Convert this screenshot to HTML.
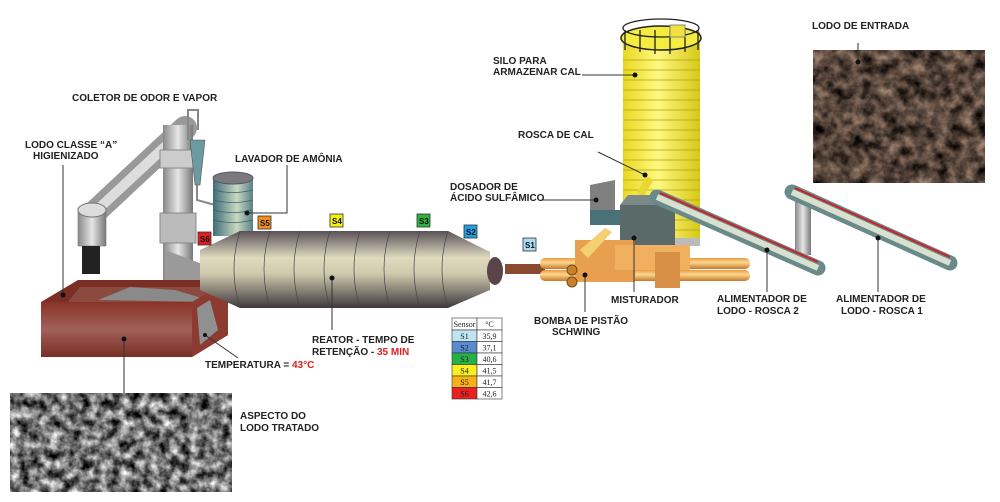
<!DOCTYPE html>
<html><head><meta charset="utf-8"><style>
html,body{margin:0;padding:0;background:#fff}
svg{display:block}
text{font-family:"Liberation Sans",Arial,sans-serif;font-weight:bold;font-size:10px;fill:#222}
.t{font-family:"Liberation Serif",serif;font-weight:normal;font-size:8px;fill:#222}
.s{font-size:8px;fill:#111}
</style></head><body>
<svg width="1000" height="502" viewBox="0 0 1000 502" xmlns="http://www.w3.org/2000/svg">
<defs>
<filter id="ng" x="0" y="0" width="100%" height="100%" color-interpolation-filters="sRGB"><feTurbulence type="fractalNoise" baseFrequency="0.1" numOctaves="4" seed="3"/><feColorMatrix type="matrix" values="1.5 0 0 0 -0.3  1.5 0 0 0 -0.3  1.5 0 0 0 -0.3  0 0 0 0 1"/><feComposite in2="SourceGraphic" operator="in"/></filter>
<filter id="nb" x="0" y="0" width="100%" height="100%" color-interpolation-filters="sRGB"><feTurbulence type="fractalNoise" baseFrequency="0.08" numOctaves="4" seed="7"/><feColorMatrix type="matrix" values="0.9 0 0 0 -0.12  0.75 0 0 0 -0.11  0.65 0 0 0 -0.1  0 0 0 0 1"/><feComposite in2="SourceGraphic" operator="in"/></filter>
<linearGradient id="rg" x1="0" y1="0" x2="0" y2="1"><stop offset="0" stop-color="#5a5258"/><stop offset=".35" stop-color="#e0dac0"/><stop offset=".55" stop-color="#d0caae"/><stop offset="1" stop-color="#3e383e"/></linearGradient>
<linearGradient id="yg" x1="0" y1="0" x2="1" y2="0"><stop offset="0" stop-color="#e8d820"/><stop offset=".45" stop-color="#fff880"/><stop offset="1" stop-color="#d8c818"/></linearGradient>
<linearGradient id="gg" x1="0" y1="0" x2="1" y2="0"><stop offset="0" stop-color="#888"/><stop offset=".5" stop-color="#e6e6e6"/><stop offset="1" stop-color="#777"/></linearGradient>
<linearGradient id="tg" x1="0" y1="0" x2="1" y2="0"><stop offset="0" stop-color="#3f6e78"/><stop offset=".6" stop-color="#c8d8c0"/><stop offset="1" stop-color="#5a8088"/></linearGradient>
<linearGradient id="og" x1="0" y1="0" x2="0" y2="1"><stop offset="0" stop-color="#e89a40"/><stop offset=".4" stop-color="#fcd890"/><stop offset="1" stop-color="#c87828"/></linearGradient>
<linearGradient id="bx" x1="0" y1="0" x2="0" y2="1"><stop offset="0" stop-color="#8a3328"/><stop offset=".5" stop-color="#a0605a"/><stop offset="1" stop-color="#7a2e24"/></linearGradient>
</defs>

<!-- photos -->
<rect x="10" y="393" width="222" height="99" fill="#fff" filter="url(#ng)"/>
<rect x="813" y="50" width="172" height="133" fill="#fff" filter="url(#nb)"/>

<!-- collector -->
<line x1="95" y1="212" x2="185" y2="128" stroke="#999" stroke-width="24" stroke-linecap="round"/>
<line x1="95" y1="212" x2="185" y2="128" stroke="#ddd" stroke-width="10"/>
<rect x="163" y="125" width="30" height="170" fill="url(#gg)"/>
<rect x="160" y="213" width="36" height="30" fill="#bbb" stroke="#888"/>
<rect x="160" y="150" width="36" height="18" fill="#ccc" stroke="#888"/>
<path d="M165 250 L165 290 Q170 300 200 298 L205 265 Z" fill="#9a9a9a"/>
<path d="M188 140 L188 110 L198 110 L198 130" fill="none" stroke="#888" stroke-width="2"/>
<path d="M190 140 L205 140 L200 185 L195 185 Z" fill="#6b9aa0" stroke="#555" stroke-width=".6"/>
<path d="M197 185 L197 200 L215 205" fill="none" stroke="#888" stroke-width="2"/>
<rect x="78" y="208" width="28" height="38" fill="url(#gg)" stroke="#777" stroke-width=".6"/>
<ellipse cx="92" cy="210" rx="14" ry="7" fill="#ddd" stroke="#777"/>
<rect x="82" y="246" width="18" height="28" fill="#222"/>
<!-- lavador -->
<rect x="213" y="178" width="40" height="58" fill="url(#tg)"/>
<ellipse cx="233" cy="178" rx="20" ry="6" fill="#7a7a7a" stroke="#557"/>
<g stroke="#406070" stroke-width=".7" fill="none"><path d="M213 190 q20 5 40 0M213 200 q20 5 40 0M213 210 q20 5 40 0M213 220 q20 5 40 0"/></g>

<!-- box -->
<polygon points="78,280 228,280 228,335 192,357 41,357 41,302" fill="#7a2e24"/>
<polygon points="80,287 225,287 225,300 195,302 68,302" fill="#8a4a40"/>
<polygon points="98,300 130,287 175,290 215,302" fill="#8a8a8a"/>
<polygon points="192,302 228,280 228,335 192,357" fill="#8d3a30"/>
<polygon points="197,308 210,300 218,330 200,345" fill="#909090"/>
<rect x="41" y="302" width="151" height="55" fill="url(#bx)"/>

<!-- reactor -->
<polygon points="240,231 448,231 490,252 490,290 448,308 240,308 200,290 200,250" fill="url(#rg)"/>
<g stroke="#4a444a" stroke-width=".7" fill="none">
<path d="M240 231 q-12 38 0 77M270 231 q-12 38 0 77M300 231 q-12 38 0 77M330 231 q-12 38 0 77M360 231 q-12 38 0 77M390 231 q-12 38 0 77M420 231 q-12 38 0 77M448 231 q-12 38 0 77"/></g>
<ellipse cx="495" cy="271" rx="8" ry="14" fill="#5a4448"/>

<!-- silo -->
<rect x="623" y="32" width="77" height="210" fill="url(#yg)"/>
<rect x="623" y="238" width="77" height="8" fill="#bbb"/>
<g stroke="#b0a010" stroke-width=".8" fill="none">
<path d="M623 60 h77M623 70 h77M623 80 h77M623 90 h77M623 100 h77M623 110 h77M623 120 h77M623 130 h77M623 140 h77M623 150 h77M623 160 h77M623 170 h77M623 180 h77M623 190 h77M623 200 h77M623 210 h77M623 220 h77M623 230 h77"/></g>
<ellipse cx="661" cy="38" rx="40" ry="12" fill="#f4ec40" stroke="#222" stroke-width="1.5"/>
<path d="M625 50 v-20 M640 52 v-22 M655 54 v-24 M670 54 v-24 M685 52 v-22 M698 50 v-20" stroke="#222" stroke-width="1.3"/>
<ellipse cx="661" cy="28" rx="38" ry="9" fill="none" stroke="#222" stroke-width="1.3"/>
<rect x="670" y="25" width="15" height="12" fill="#f0e040" stroke="#887"/>
<line x1="650" y1="178" x2="640" y2="195" stroke="#e8d830" stroke-width="8"/>

<!-- dosador & misturador -->
<polygon points="590,185 615,180 615,210 590,210" fill="#808080"/>
<rect x="590" y="210" width="50" height="15" fill="#4a7078"/>
<rect x="620" y="205" width="55" height="43" fill="#5a6a68"/>
<polygon points="620,205 675,205 668,195 628,195" fill="#7a8a88"/>

<!-- pump pipes -->
<rect x="505" y="264" width="40" height="10" fill="#8a4a30"/>
<rect x="540" y="258" width="210" height="11" rx="5" fill="url(#og)"/>
<rect x="540" y="270" width="210" height="11" rx="5" fill="url(#og)"/>
<rect x="575" y="240" width="60" height="42" fill="#e8a050"/>
<rect x="615" y="245" width="75" height="25" fill="#f0b060"/>
<rect x="655" y="252" width="25" height="36" fill="#d89048"/>
<polygon points="580,250 605,228 612,232 588,258" fill="#f4d070"/>
<circle cx="572" cy="270" r="5" fill="#c88030" stroke="#7a4a10"/>
<circle cx="572" cy="282" r="5" fill="#c88030" stroke="#7a4a10"/>

<!-- screws -->
<rect x="795" y="200" width="16" height="55" fill="url(#gg)"/>
<line x1="657" y1="197" x2="818" y2="268" stroke="#6a8a8a" stroke-width="15" stroke-linecap="round"/>
<line x1="657" y1="197" x2="818" y2="268" stroke="#d8e0d0" stroke-width="6"/>
<line x1="660" y1="193" x2="818" y2="262" stroke="#d02020" stroke-width="2"/>
<line x1="792" y1="192" x2="950" y2="263" stroke="#6a8a8a" stroke-width="15" stroke-linecap="round"/>
<line x1="792" y1="192" x2="950" y2="263" stroke="#d8e0d0" stroke-width="6"/>
<line x1="795" y1="188" x2="950" y2="257" stroke="#d02020" stroke-width="2"/>

<!-- sensors -->
<g stroke="#333" stroke-width=".8">
<rect x="198" y="232" width="13" height="13" fill="#e02020"/>
<rect x="258" y="216" width="13" height="13" fill="#f0901a"/>
<rect x="330" y="214" width="13" height="13" fill="#f6ee18"/>
<rect x="417" y="214" width="13" height="13" fill="#30b040"/>
<rect x="464" y="225" width="13" height="13" fill="#20a0e0"/>
<rect x="523" y="238" width="13" height="13" fill="#a8dcf0"/>
</g>
<g class="s"><text x="200" y="242" class="s">S6</text><text x="260" y="226" class="s">S5</text><text x="332" y="224" class="s">S4</text><text x="419" y="224" class="s">S3</text><text x="466" y="235" class="s">S2</text><text x="525" y="248" class="s">S1</text></g>

<!-- table -->
<g stroke="#333" stroke-width=".6">
<rect x="452" y="318" width="25" height="12" fill="#fff"/><rect x="477" y="318" width="25" height="12" fill="#fff"/>
<rect x="452" y="330" width="25" height="11.5" fill="#bfe4f2"/><rect x="477" y="330" width="25" height="11.5" fill="#fff"/>
<rect x="452" y="341.5" width="25" height="11.5" fill="#5a8ad0"/><rect x="477" y="341.5" width="25" height="11.5" fill="#fff"/>
<rect x="452" y="353" width="25" height="11.5" fill="#28b048"/><rect x="477" y="353" width="25" height="11.5" fill="#fff"/>
<rect x="452" y="364.5" width="25" height="11.5" fill="#f8f020"/><rect x="477" y="364.5" width="25" height="11.5" fill="#fff"/>
<rect x="452" y="376" width="25" height="11.5" fill="#f8b018"/><rect x="477" y="376" width="25" height="11.5" fill="#fff"/>
<rect x="452" y="387.5" width="25" height="11.5" fill="#e82020"/><rect x="477" y="387.5" width="25" height="11.5" fill="#fff"/>
</g>
<g class="t" text-anchor="middle">
<text class="t" x="464.5" y="327">Sensor</text><text class="t" x="489.5" y="327">°C</text>
<text class="t" x="464.5" y="339">S1</text><text class="t" x="489.5" y="339">35,9</text>
<text class="t" x="464.5" y="350.5">S2</text><text class="t" x="489.5" y="350.5">37,1</text>
<text class="t" x="464.5" y="362">S3</text><text class="t" x="489.5" y="362">40,6</text>
<text class="t" x="464.5" y="373.5">S4</text><text class="t" x="489.5" y="373.5">41,5</text>
<text class="t" x="464.5" y="385">S5</text><text class="t" x="489.5" y="385">41,7</text>
<text class="t" x="464.5" y="396.5">S6</text><text class="t" x="489.5" y="396.5">42,6</text>
</g>

<!-- leader lines -->
<g stroke="#333" stroke-width="1" fill="none">
<path d="M63 165 V295"/><path d="M287 165 V213 H247"/><path d="M332 278 V330"/>
<path d="M238 358 L205 335"/><path d="M124 339 V393"/><path d="M582 75 H635"/>
<path d="M598 152 L645 175"/><path d="M543 200 H596"/><path d="M634 238 V292"/>
<path d="M767 250 V292"/><path d="M878 238 V292"/><path d="M585 275 V312"/><path d="M858 43 V62"/>
</g>
<g fill="#111"><circle cx="63" cy="295" r="2.5"/><circle cx="247" cy="213" r="2.5"/><circle cx="332" cy="278" r="2.5"/><circle cx="205" cy="335" r="2"/><circle cx="124" cy="339" r="2.5"/><circle cx="635" cy="75" r="2.5"/><circle cx="645" cy="175" r="2.5"/><circle cx="596" cy="200" r="2.5"/><circle cx="634" cy="238" r="2.5"/><circle cx="767" cy="250" r="2.5"/><circle cx="878" cy="238" r="2.5"/><circle cx="585" cy="275" r="2.5"/><circle cx="858" cy="62" r="2.5"/></g>

<!-- labels -->
<text x="72" y="101">COLETOR DE ODOR E VAPOR</text>
<text x="25" y="148">LODO CLASSE “A”</text><text x="33" y="159">HIGIENIZADO</text>
<text x="235" y="162">LAVADOR DE AMÔNIA</text>
<text x="450" y="190">DOSADOR DE</text><text x="450" y="201">ÁCIDO SULFÂMICO</text>
<text x="493" y="64">SILO PARA</text><text x="493" y="75">ARMAZENAR CAL</text>
<text x="518" y="138">ROSCA DE CAL</text>
<text x="812" y="29">LODO DE ENTRADA</text>
<text x="611" y="303">MISTURADOR</text>
<text x="717" y="302">ALIMENTADOR DE</text><text x="717" y="314">LODO - ROSCA 2</text>
<text x="836" y="302">ALIMENTADOR DE</text><text x="841" y="314">LODO - ROSCA 1</text>
<text x="534" y="324">BOMBA DE PISTÃO</text><text x="552" y="335">SCHWING</text>
<text x="312" y="343">REATOR - TEMPO DE</text><text x="312" y="355">RETENÇÃO - <tspan fill="#e02020">35 MIN</tspan></text>
<text x="205" y="368">TEMPERATURA = <tspan fill="#e02020">43°C</tspan></text>
<text x="240" y="419">ASPECTO DO</text><text x="240" y="431">LODO TRATADO</text>
</svg>
</body></html>
